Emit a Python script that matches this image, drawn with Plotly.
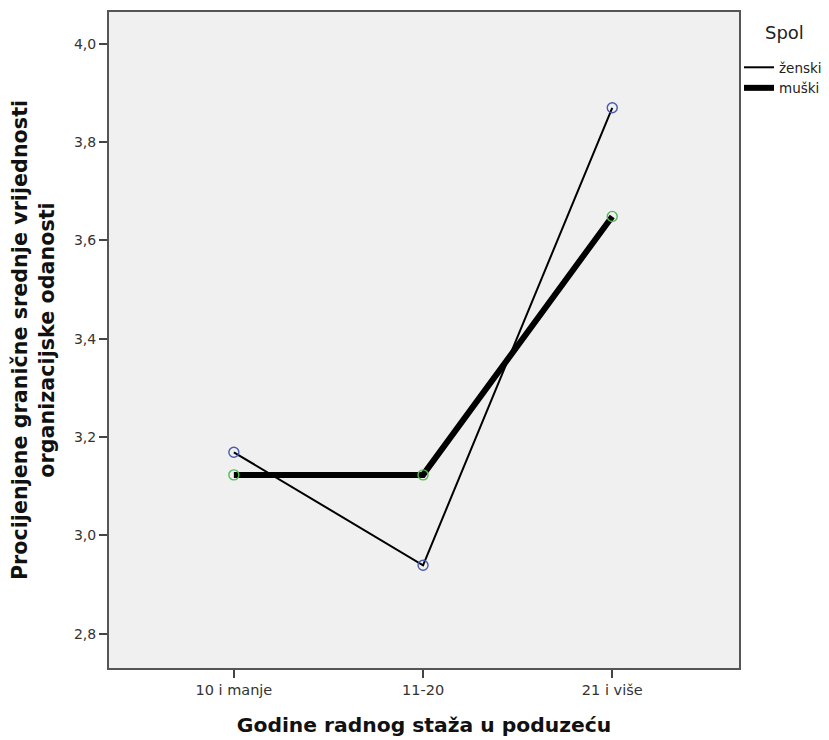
import plotly.graph_objects as go

categories = ["10 i manje", "11-20", "21 i više"]
zenski = [3.169, 2.939, 3.870]
muski = [3.123, 3.123, 3.649]
series_names = ["ženski", "muški"]
legend_title = "Spol"
y_ticks = [2.8, 3.0, 3.2, 3.4, 3.6, 3.8, 4.0]

xpos = list(range(len(categories)))
FONT = "DejaVu Sans, Verdana, sans-serif"

fig = go.Figure()
fig.add_trace(go.Scatter(x=xpos, y=zenski, mode="lines", name=series_names[0],
                         line=dict(color="black", width=2)))
fig.add_trace(go.Scatter(x=xpos, y=muski, mode="lines", name=series_names[1],
                         line=dict(color="black", width=6)))
fig.add_trace(go.Scatter(x=xpos, y=zenski, mode="markers", showlegend=False,
                         marker=dict(symbol="circle-open", size=10, color="#4a5aa8",
                                     line=dict(width=1.4))))
fig.add_trace(go.Scatter(x=xpos, y=muski, mode="markers", showlegend=False,
                         marker=dict(symbol="circle-open", size=10, color="#55b855",
                                     line=dict(width=1.4))))

fig.add_annotation(text=legend_title, xref="paper", yref="paper",
                   x=1.073, y=0.968, xanchor="center", yanchor="middle",
                   showarrow=False, font=dict(size=18, color="#222"))

fig.update_layout(
    template="none",
    width=821, height=732,
    margin=dict(l=101, r=90, t=4, b=72, autoexpand=False),
    paper_bgcolor="white",
    plot_bgcolor="#f0f0f0",
    separators=",.",
    font=dict(family=FONT, color="#222"),
    xaxis=dict(
        tickvals=xpos, ticktext=categories,
        range=[-0.66, 2.67],
        showline=True, mirror=True, linecolor="#555", linewidth=2,
        ticks="outside", ticklen=8, tickcolor="#444", tickwidth=1.5,
        showgrid=False, zeroline=False, automargin=False,
        tickfont=dict(size=14.5, color="#333"),
        title=dict(text="<b>Godine radnog staža u poduzeću</b>",
                   font=dict(size=20.3, color="#111"), standoff=20),
    ),
    yaxis=dict(
        range=[2.730, 4.065],
        tickvals=y_ticks, tickformat=".1f",
        showline=True, mirror=True, linecolor="#555", linewidth=2,
        ticks="outside", ticklen=8, tickcolor="#444", tickwidth=1.5,
        showgrid=False, zeroline=False, automargin=False,
        tickfont=dict(size=14, color="#333"),
        title=dict(text="<b>Procijenjene granične srednje vrijednosti<br>organizacijske odanosti</b>",
                   font=dict(size=20.7, color="#111"), standoff=14),
    ),
    legend=dict(
        x=1.0, y=0.939, xanchor="left", yanchor="top",
        bgcolor="rgba(0,0,0,0)",
        font=dict(size=13.5, color="#222"),
        itemwidth=30, tracegroupgap=0,
    ),
)

fig.write_html("out.html")
